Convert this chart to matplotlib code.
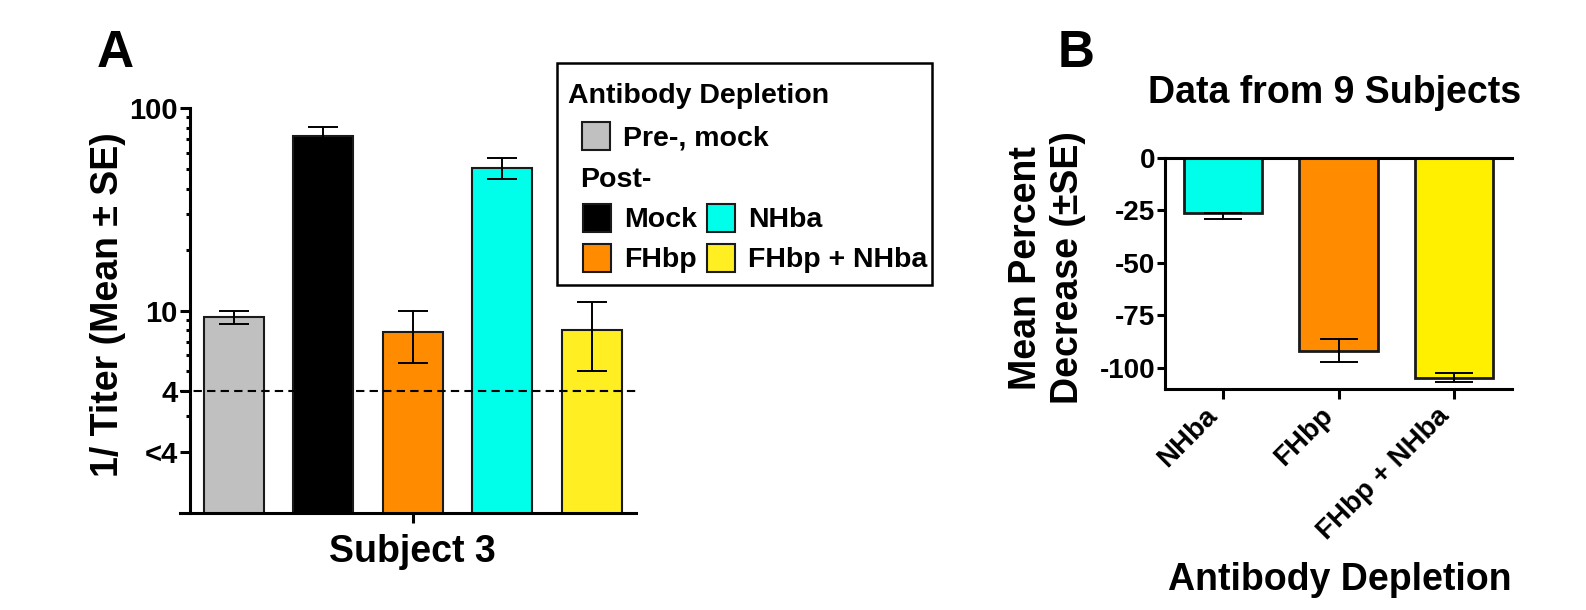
import matplotlib
matplotlib.use('Agg')
import matplotlib.pyplot as plt
from matplotlib.patches import Rectangle
from matplotlib.ticker import FixedLocator, NullFormatter

plt.rcParams['font.family'] = ['Liberation Sans', 'DejaVu Sans']
plt.rcParams['font.weight'] = 'bold'

# Panel A data (Subject 3, 1/titer)
a_names = ['Pre-, mock', 'Mock', 'FHbp', 'NHba', 'FHbp + NHba']
a_mean = [9.3, 72.8, 7.8, 50.6, 8.0]
a_low = [8.6, 66.0, 5.5, 44.7, 5.0]
a_high = [10.0, 80.6, 10.0, 56.8, 11.0]
a_colors = ['#C0C0C0', '#000000', '#FF8C00', '#00FFEA', '#FFEE22']
a_ticks = [2, 4, 10, 100]
a_ticklabels = ['<4', '4', '10', '100']
a_minor = [3, 5, 6, 7, 8, 9, 20, 30, 40, 50, 60, 70, 80, 90]
limit = 4

# Panel B data (9 subjects, mean percent decrease)
b_names = ['NHba', 'FHbp', 'FHbp + NHba']
b_mean = [-26.1, -92.1, -104.6]
b_err_down = [2.9, 5.2, 2.0]
b_err_up = [0.0, 5.7, 2.0]
b_colors = ['#00FFEA', '#FF8C00', '#FFF000']
b_ticks = [0, -25, -50, -75, -100]

W, H = 1586, 610
fig = plt.figure(figsize=(W / 100, H / 100), dpi=100)


def fx(x):
    return x / W


def fy(y):
    return 1 - y / H


lw_ax = 2.2
edge = '#1a1a1a'

# ---- Panel A
ax1 = fig.add_axes([fx(180), fy(513), (636 - 180) / W, (513 - 108) / H])
xa = list(range(len(a_mean)))
ax1.bar(xa, a_mean, width=0.67, color=a_colors, edgecolor=edge, linewidth=1.5, zorder=2)
yerr = [[m - lo for m, lo in zip(a_mean, a_low)], [hi - m for m, hi in zip(a_mean, a_high)]]
ax1.errorbar(xa, a_mean, yerr=yerr, fmt='none', ecolor='black', elinewidth=1.4,
             capsize=11, capthick=1.4, zorder=3)
ax1.axhline(limit, color='black', linestyle=(0, (4, 2.5)), linewidth=1.5, zorder=4)
ax1.set_yscale('log')
ax1.set_ylim(1, 100)
ax1.set_xlim(-0.6, 4.497)
ax1.yaxis.set_major_locator(FixedLocator(a_ticks))
ax1.set_yticklabels(a_ticklabels)
ax1.yaxis.set_minor_locator(FixedLocator(a_minor))
ax1.yaxis.set_minor_formatter(NullFormatter())
ax1.set_xticks([2])
ax1.set_xticklabels(['Subject 3'], fontsize=27, fontweight='bold')
ax1.spines['left'].set_position(('data', -0.486))
ax1.spines['top'].set_visible(False)
ax1.spines['right'].set_visible(False)
for s in ['left', 'bottom']:
    ax1.spines[s].set_linewidth(lw_ax)
ax1.spines['left'].set_bounds(1, 100)
ax1.tick_params(axis='y', which='major', length=7, width=lw_ax, labelsize=21, pad=2)
ax1.tick_params(axis='y', which='minor', length=3, width=lw_ax)
ax1.tick_params(axis='x', length=7, width=lw_ax, pad=8)
for t in ax1.get_yticklabels():
    t.set_fontweight('bold')

fig.text(fx(108), fy(305), '1/ Titer (Mean \u00b1 SE)', rotation=90, ha='center', va='center',
         fontsize=27, fontweight='bold')
fig.text(fx(97), fy(67), 'A', fontsize=37, fontweight='bold', va='baseline')

# legend box
fig.add_artist(Rectangle((fx(557), fy(285)), (932 - 557) / W, (285 - 63) / H,
                         transform=fig.transFigure, fill=False, edgecolor='black', linewidth=1.8))
fig.text(fx(568), fy(103), 'Antibody Depletion', fontsize=20.5, fontweight='bold', va='baseline')
fig.text(fx(580), fy(187), 'Post-', fontsize=20.5, fontweight='bold', va='baseline')
legend_rows = [
    (a_colors[0], a_names[0], 582, 122, 146),
    (a_colors[1], a_names[1], 583, 204, 227),
    (a_colors[3], a_names[3], 707, 204, 227),
    (a_colors[2], a_names[2], 583, 244, 267),
    (a_colors[4], a_names[4], 707, 244, 267),
]
for col, name, px, py, base in legend_rows:
    fig.add_artist(Rectangle((fx(px), fy(py + 28)), 28 / W, 28 / H, transform=fig.transFigure,
                             facecolor=col, edgecolor=edge, linewidth=1.5))
    fig.text(fx(px + 41), fy(base), name, fontsize=20.5, fontweight='bold', va='baseline')

# ---- Panel B
ax2 = fig.add_axes([fx(1165), fy(389), (1512 - 1165) / W, (389 - 158) / H])
xb = list(range(len(b_mean)))
ax2.bar(xb, b_mean, width=0.68, color=b_colors, edgecolor=edge, linewidth=2.0, zorder=2)
ax2.errorbar(xb, b_mean, yerr=[b_err_down, b_err_up], fmt='none', ecolor='black',
             elinewidth=1.4, capsize=14, capthick=1.4, zorder=3)
ax2.set_xlim(-0.5, 2.5)
ax2.set_ylim(-110, 0)
ax2.set_yticks(b_ticks)
ax2.set_yticklabels([str(v) for v in b_ticks])
ax2.set_xticks(xb)
ax2.set_xticklabels(b_names, rotation=45, ha='right', fontsize=20, fontweight='bold')
ax2.spines['right'].set_visible(False)
for s in ['left', 'bottom', 'top']:
    ax2.spines[s].set_linewidth(lw_ax)
ax2.tick_params(axis='y', length=6, width=lw_ax, labelsize=20, pad=1)
ax2.tick_params(axis='x', length=7, width=lw_ax, pad=3)
for t in ax2.get_yticklabels():
    t.set_fontweight('bold')

fig.text(fx(1058), fy(67), 'B', fontsize=37, fontweight='bold', va='baseline')
fig.text(fx(1335), fy(103), 'Data from 9 Subjects', fontsize=27, fontweight='bold',
         ha='center', va='baseline')
fig.text(fx(1047), fy(268), 'Mean Percent\nDecrease (\u00b1SE)', rotation=90, ha='center',
         va='center', multialignment='center', fontsize=27, fontweight='bold')
fig.text(fx(1340), fy(590), 'Antibody Depletion', fontsize=27, fontweight='bold',
         ha='center', va='baseline')

fig.savefig('out.png', dpi=100)
